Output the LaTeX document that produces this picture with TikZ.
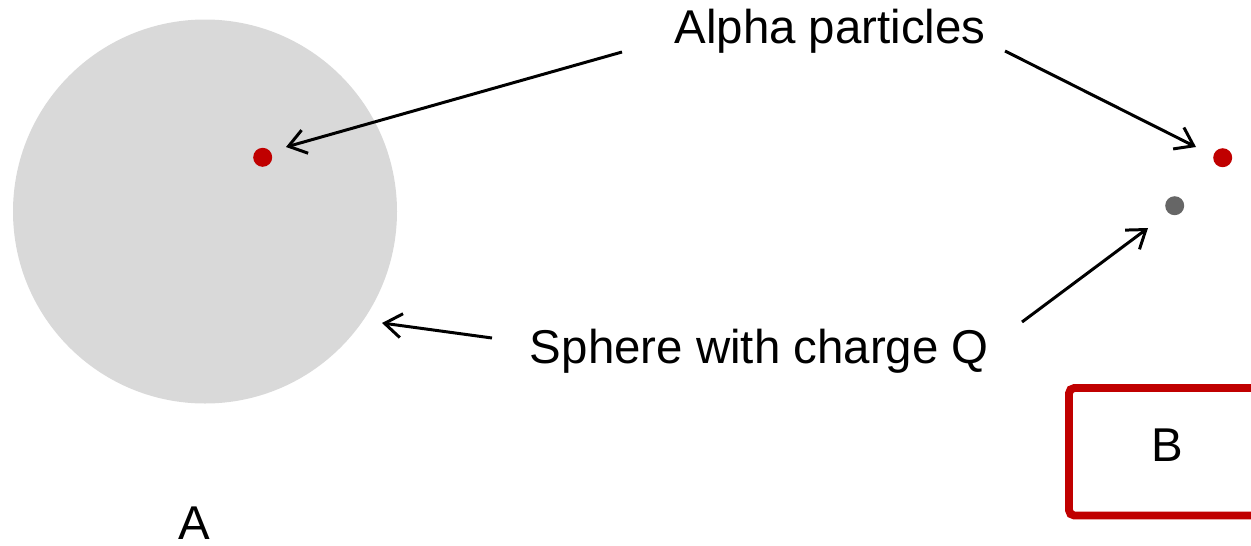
\documentclass[tikz,border=0pt]{standalone}
\usepackage{fontspec}
\setmainfont{Liberation Sans}
\usetikzlibrary{arrows.meta}
\definecolor{sphgray}{HTML}{D9D9D9}
\definecolor{alphared}{HTML}{C00000}
\definecolor{dotgray}{HTML}{666666}
\begin{document}
\begin{tikzpicture}[x=0.02cm, y=-0.02cm, line width=1.7pt,
txt/.style={inner sep=0pt, anchor=base west, font=\fontsize{27}{32}\selectfont},
dot/.style={circle, inner sep=0pt, minimum size=0.38cm},
pointer/.style={-{Straight Barb[length=0.34cm, width=0.48cm, line width=1.7pt]}}]
\path[use as bounding box] (0,0) rectangle (1251,545);
\fill[sphgray] (205,211.5) circle [radius=192];
\node[dot, fill=alphared] (a1) at (262.7,157.3) {};
\node[dot, fill=alphared] (a2) at (1222.7,157.7) {};
\node[dot, fill=dotgray] (q2) at (1174.7,205.7) {};
\node[txt] (alpha) at (673,43.3) {Alpha particles};
\node[txt] (sphere) at (528.5,363) {Sphere with charge Q};
\node[draw=alphared, line width=4.5pt, rounded corners=3pt, minimum width=4.44cm, minimum height=2.55cm] (boxB) at (1180,451.75) {};
\node[txt] (labB) at (1150,461) {B};
\node[txt] (labA) at (177,539) {A};
\coordinate (s1) at (622,52);
\coordinate (t1) at (286,147);
\coordinate (s2) at (1005,51);
\coordinate (t2) at (1196,147);
\coordinate (s3) at (492,338);
\coordinate (t3) at (382,323);
\coordinate (s4) at (1022,322);
\coordinate (t4) at (1148,228);
\draw[pointer] (s1) -- (t1);
\draw[pointer] (s2) -- (t2);
\draw[pointer] (s3) -- (t3);
\draw[pointer] (s4) -- (t4);
\end{tikzpicture}
\end{document}
